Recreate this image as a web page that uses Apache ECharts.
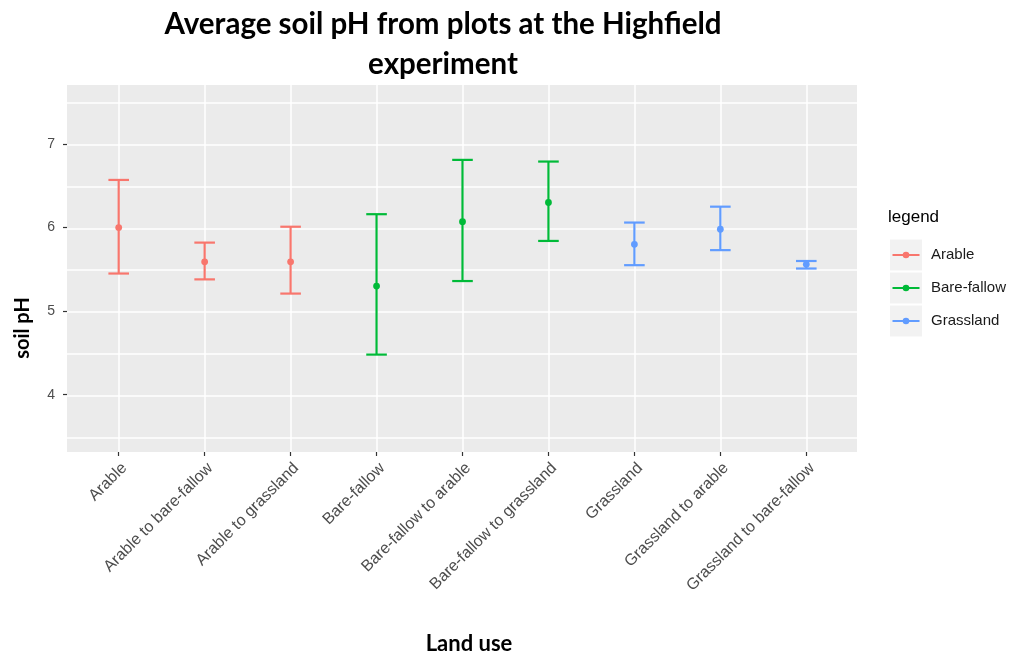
<!DOCTYPE html>
<html>
<head>
<meta charset="utf-8">
<script src="https://cdn.jsdelivr.net/npm/echarts@6/dist/echarts.min.js"></script>
<style>html,body{margin:0;padding:0;background:#fff;}#c{width:1023px;height:654px;}</style>
</head>
<body>
<div id="c"></div>
<script>
const categories = ['Arable','Arable to bare-fallow','Arable to grassland','Bare-fallow','Bare-fallow to arable','Bare-fallow to grassland','Grassland','Grassland to arable','Grassland to bare-fallow'];
const groups = ['Arable','Arable','Arable','Bare-fallow','Bare-fallow','Bare-fallow','Grassland','Grassland','Grassland'];
const meanPH = [6.00, 5.59, 5.59, 5.30, 6.07, 6.30, 5.80, 5.98, 5.56];
const lowerPH = [5.45, 5.38, 5.21, 4.48, 5.36, 5.84, 5.55, 5.73, 5.51];
const upperPH = [6.57, 5.82, 6.01, 6.16, 6.81, 6.79, 6.06, 6.25, 5.60];
const legendNames = ['Arable','Bare-fallow','Grassland'];
const groupColors = {'Arable':'#F8766D','Bare-fallow':'#00BA38','Grassland':'#619CFF'};
const yTicks = [4, 5, 6, 7];

const chart = echarts.init(document.getElementById('c'));

function renderItem(params, api) {
  const x = api.value(0);
  const lo = api.coord([x, api.value(1)]);
  const mid = api.coord([x, api.value(2)]);
  const hi = api.coord([x, api.value(3)]);
  const hw = 10.3;
  const color = api.visual('color');
  const ls = {stroke: color, lineWidth: 2.2};
  return {
    type: 'group',
    children: [
      {type: 'line', shape: {x1: hi[0], y1: hi[1], x2: lo[0], y2: lo[1]}, style: ls},
      {type: 'line', shape: {x1: hi[0]-hw, y1: hi[1], x2: hi[0]+hw, y2: hi[1]}, style: ls},
      {type: 'line', shape: {x1: lo[0]-hw, y1: lo[1], x2: lo[0]+hw, y2: lo[1]}, style: ls},
      {type: 'circle', shape: {cx: mid[0], cy: mid[1], r: 3.4}, style: {fill: color}}
    ]
  };
}

const series = legendNames.map(name => ({
  name: name,
  type: 'custom',
  xAxisIndex: 2,
  yAxisIndex: 2,
  itemStyle: {color: groupColors[name]},
  renderItem: renderItem,
  encode: {x: 0, y: [1, 2, 3]},
  clip: false,
  z: 5,
  data: categories.map((c, i) => groups[i] === name ? [i, lowerPH[i], meanPH[i], upperPH[i]] : null).filter(d => d)
}));

const axisFont = 'Liberation Sans, Arial, sans-serif';

const option = {
  animation: false,
  backgroundColor: '#ffffff',
  title: [{
    text: 'Average soil pH from plots at the Highfield\nexperiment',
    left: 443, top: 4, textAlign: 'center', padding: 0,
    textStyle: {fontFamily: 'Lato', fontWeight: 'bold', fontSize: 29.5, lineHeight: 40, color: '#000'}
  }, {
    text: 'legend', left: 888, top: 209, padding: 0,
    textStyle: {fontFamily: axisFont, fontWeight: 'normal', fontSize: 17, color: '#000'}
  }],
  grid: [
    {left: 67, top: 85, width: 790, height: 367, show: true, backgroundColor: '#EBEBEB', borderWidth: 0},
    {left: 118.7, top: 85, width: 687.6, height: 367},
    {left: 118.7, top: 144, width: 687.6, height: 250.7},
    {left: 67, top: 102.7, width: 790, height: 335}
  ],
  xAxis: [
    {gridIndex: 0, type: 'value', show: false, min: 0, max: 1},
    {gridIndex: 1, type: 'category', data: categories, boundaryGap: false,
      axisLine: {show: false},
      axisTick: {show: true, length: 4, lineStyle: {color: '#333', width: 1.2}},
      axisLabel: {rotate: 45, interval: 0, margin: 8, verticalAlign: 'top', color: '#4D4D4D', fontFamily: axisFont, fontSize: 16},
      splitLine: {show: true, lineStyle: {color: '#fff', width: 1.5}}
    },
    {gridIndex: 2, type: 'category', data: categories, boundaryGap: false, show: false},
    {gridIndex: 3, type: 'value', show: false, min: 0, max: 1}
  ],
  yAxis: [
    {gridIndex: 0, type: 'value', show: false, min: 0, max: 1},
    {gridIndex: 1, type: 'value', show: false, min: 0, max: 1},
    {gridIndex: 2, type: 'value', min: yTicks[0], max: yTicks[yTicks.length-1], interval: 1, offset: 51.7,
      axisLine: {show: false},
      axisTick: {show: true, length: 4, lineStyle: {color: '#333', width: 1.2}},
      axisLabel: {color: '#4D4D4D', fontFamily: axisFont, fontSize: 14, margin: 12},
      splitLine: {show: false}
    },
    {gridIndex: 3, type: 'value', min: 3.5, max: 7.5, interval: 0.5,
      axisLine: {show: false}, axisTick: {show: false}, axisLabel: {show: false},
      splitLine: {show: true, lineStyle: {color: '#fff', width: 1.5}}
    }
  ],
  legend: [{
    data: legendNames, orient: 'vertical', left: 890, top: 239.5, padding: 0,
    icon: 'rect', itemWidth: 32, itemHeight: 31, itemGap: 2,
    itemStyle: {color: '#F2F2F2'},
    selectedMode: false,
    textStyle: {fontFamily: axisFont, fontSize: 15, color: '#1a1a1a', padding: [0, 0, 0, 4]}
  }, {
    data: legendNames, orient: 'vertical', left: 892.5, top: 251.7, padding: 0,
    icon: 'path://M0,2.3 L27,2.3 L27,4.3 L0,4.3 Z M10.2,3.3 A3.3,3.3 0 1 1 16.8,3.3 A3.3,3.3 0 1 1 10.2,3.3 Z',
    itemWidth: 27, itemHeight: 6.6, itemGap: 26.4,
    selectedMode: false,
    formatter: function () { return ''; },
    textStyle: {fontSize: 6, lineHeight: 6}
  }],
  graphic: [
    {type: 'text', x: 23, y: 328, rotation: Math.PI / 2,
      style: {text: 'soil pH', font: 'bold 20px Lato', fill: '#000', textAlign: 'center', textVerticalAlign: 'middle'}},
    {type: 'text', x: 469, y: 644,
      style: {text: 'Land use', font: 'bold 22px Lato', fill: '#000', textAlign: 'center', textVerticalAlign: 'middle'}}
  ],
  series: series
};
chart.setOption(option);
</script>
</body>
</html>
